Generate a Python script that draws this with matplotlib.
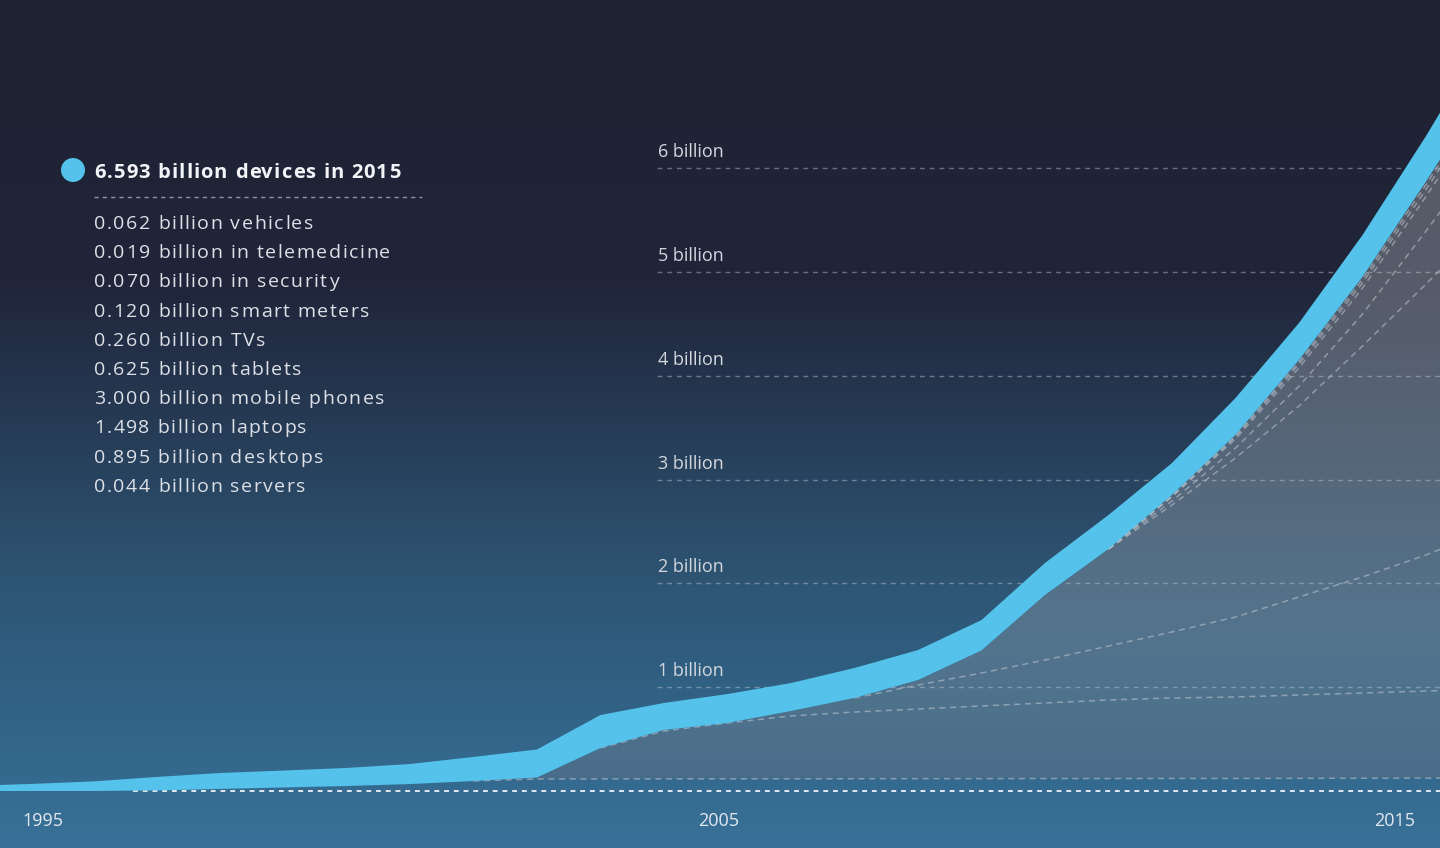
import numpy as np
import matplotlib.pyplot as plt
from matplotlib.patches import Ellipse

# layer thickness in billions of devices, one value per step of the x grid
servers = [0, 0, 0, 0.005, 0.02, 0.034, 0.048, 0.067, 0.096, 0.116, 0.116, 0.117, 0.117,
           0.118, 0.118, 0.119, 0.119, 0.120, 0.120, 0.121, 0.121, 0.122, 0.123, 0.124, 0.125]
desktops = [0, 0, 0, 0, 0, 0, 0, 0, 0, 0.014, 0.298, 0.461, 0.538,
            0.605, 0.643, 0.671, 0.700, 0.728, 0.757, 0.775, 0.785, 0.803, 0.821, 0.839, 0.858]
laptops = [0, 0, 0, 0, 0, 0, 0, 0, 0, 0, 0, 0.010, 0,
           0.048, 0.135, 0.231, 0.318, 0.414, 0.520, 0.636, 0.770, 0.944, 1.118, 1.311, 1.531]
phones = [0, 0, 0, 0, 0, 0, 0, 0, 0, 0, 0, 0, 0,
          0, 0, 0.048, 0.217, 0.626, 0.934, 1.223, 1.532, 1.840, 2.225, 2.610, 2.986]
tablets = [0, 0, 0, 0, 0, 0, 0, 0, 0, 0, 0, 0, 0,
           0, 0, 0, 0, 0, 0, 0.039, 0.096, 0.191, 0.308, 0.511, 0.720]
tvs = [0, 0, 0, 0, 0, 0, 0, 0, 0, 0, 0, 0, 0,
       0, 0, 0, 0, 0, 0, 0.040, 0.088, 0.176, 0.250, 0.333, 0.427]
meters = [0, 0, 0, 0, 0, 0, 0, 0, 0, 0, 0, 0, 0,
          0, 0, 0, 0, 0, 0, 0.008, 0.018, 0.036, 0.050, 0.066, 0.085]
security = [0, 0, 0, 0, 0, 0, 0, 0, 0, 0, 0, 0, 0,
            0, 0, 0, 0, 0, 0, 0.006, 0.012, 0.025, 0.036, 0.048, 0.061]
telemed = [0, 0, 0, 0, 0, 0, 0, 0, 0, 0, 0, 0, 0,
           0, 0, 0, 0, 0, 0, 0.004, 0.008, 0.015, 0.021, 0.028, 0.037]
# blue highlight band on top of the stack
blue_band = [0.048, 0.067, 0.092, 0.130, 0.153, 0.163, 0.174, 0.193, 0.232, 0.270, 0.318, 0.260, 0.279,
             0.269, 0.289, 0.289, 0.293, 0.309, 0.328, 0.308, 0.356, 0.357, 0.404, 0.440, 0.500]

grid_vals = [1, 2, 3, 4, 5, 6]
year_labels = ["1995", "2005", "2015"]
title = "6.593 billion devices in 2015"
legend_items = ["0.062 billion vehicles", "0.019 billion in telemedicine", "0.070 billion in security",
                "0.120 billion smart meters", "0.260 billion TVs", "0.625 billion tablets",
                "3.000 billion mobile phones", "1.498 billion laptops", "0.895 billion desktops",
                "0.044 billion servers"]

W, H = 1440, 848
BLUE = "#54c2ea"
plt.rcParams['font.family'] = ['Open Sans', 'DejaVu Sans']

fig = plt.figure(figsize=(W / 100, H / 100), dpi=100)
renderer = fig.canvas.get_renderer()


def tracked(x_px, y_px, s, track, **kw):
    # draw text char by char with extra letter spacing (px), y_px is the baseline
    probe = fig.text(0, 0, 'x', **kw)
    wx = probe.get_window_extent(renderer).width
    probe.remove()
    for i, ch in enumerate(s):
        if ch == ' ':
            continue
        pre = fig.text(0, 0, s[:i] + 'x', **kw)
        w = pre.get_window_extent(renderer).width - wx if i else 0
        pre.remove()
        fig.text((x_px + w + track * i) / W, 1 - y_px / H, ch, ha='left', va='baseline', **kw)


# background gradient
bg = fig.add_axes([0, 0, 1, 1])
stops_y = [0, 280, 420, 560, 700, 848]
stops_c = np.array([[31, 34, 49], [32, 37, 58], [38, 58, 84], [45, 82, 112], [49, 98, 133], [56, 113, 152]]) / 255
rows = np.arange(H)
grad = np.stack([np.interp(rows, stops_y, stops_c[:, c]) for c in range(3)], axis=1)
bg.imshow(np.repeat(grad[:, None, :], 8, axis=1), aspect='auto', extent=[0, 1, 0, 1], origin='upper')
bg.set_axis_off()

ax = fig.add_axes([0, 0, 1, 1])
ax.set_facecolor('none')
ax.set_axis_off()

step = np.arange(len(servers))
layers = [servers, desktops, laptops, phones, tablets, tvs, meters, security, telemed]
stack = np.cumsum(np.array(layers), axis=0)
gray_top = stack[-1]
blue_top = gray_top + np.array(blue_band)

# x grid: step i sits at pixel -34.5 + 63.5*i ; y: 0 at pixel 791, 103.8 px per billion
x0, x1 = 34.5 / 63.5, (W + 34.5) / 63.5
y0, y1 = -(H - 791) / 103.8, 791 / 103.8
ax.set_xlim(x0, x1)
ax.set_ylim(y0, y1)

# gray stacked area (servers layer left unfilled), filled with its own vertical gradient
area = ax.fill_between(step, stack[0], gray_top, facecolor='none', lw=0)
fill_y = [0, 160, 300, 480, 620, 700, 790, 848]
fill_c = np.array([[88, 91, 104], [88, 91, 104], [86, 92, 106], [86, 104, 124], [84, 116, 140],
                   [79, 114, 141], [72, 108, 138], [72, 108, 138]]) / 255
fgrad = np.stack([np.interp(rows, fill_y, fill_c[:, c]) for c in range(3)], axis=1)
im = ax.imshow(np.repeat(fgrad[:, None, :], 8, axis=1), aspect='auto', extent=[x0, x1, y0, y1],
               origin='upper', zorder=3)
im.set_clip_path(area.get_paths()[0], transform=ax.transData)

# grid lines + labels
for v in grid_vals:
    ax.axhline(v, xmin=657 / W, xmax=1, color='#c5cad3', alpha=0.45, lw=1.0,
               ls=(0, (3.5, 3.5)), zorder=4)
    ax.text(658 / W, v + 16 / 103.8, f"{v} billion", transform=ax.get_yaxis_transform(),
            color='#d3d7de', fontsize=13, va='center', ha='left', zorder=4)

# zero baseline (hidden under the band on the far left)
ax.axhline(0, xmin=133 / W, xmax=1, color='white', alpha=0.85, lw=1.4, ls=(0, (2.5, 2.5)), zorder=1)

# dashed layer boundaries, only where they part from the stack top
for j in range(len(layers) - 1):
    b = stack[j].astype(float)
    apart = (gray_top - b) > 0.004
    keep = apart | np.roll(apart, 1) | np.roll(apart, -1)
    line = np.where(keep, b, np.nan)
    ax.plot(step, line, color='#b9c0ca', alpha=0.6, lw=1.1, ls=(0, (4, 3)), zorder=4)

# blue band
ax.fill_between(step, gray_top, blue_top, color=BLUE, lw=0, zorder=5)

# year labels
for lab, px in zip(year_labels, [43, 719, 1395]):
    fig.text(px / W, 1 - 821 / H, lab, color='#e4e8ee', fontsize=13, ha='center', va='center')

# legend block
fig.add_artist(Ellipse((73 / W, 1 - 170 / H), 24 / W, 24 / H, color=BLUE, lw=0))
tracked(94, 178, title, 1.1, color='#f2f4f7', fontsize=14.5, fontweight='bold')
fig.add_artist(plt.Line2D([94 / W, 422 / W], [1 - 197 / H, 1 - 197 / H], color='#8e96a3',
                          lw=1.0, ls=(0, (3, 3))))
for i, item in enumerate(legend_items):
    tracked(94, 229 + 29.2 * i, item, 1.5, color='#dde1e7', fontsize=14)

fig.savefig('out.png', dpi=100)
